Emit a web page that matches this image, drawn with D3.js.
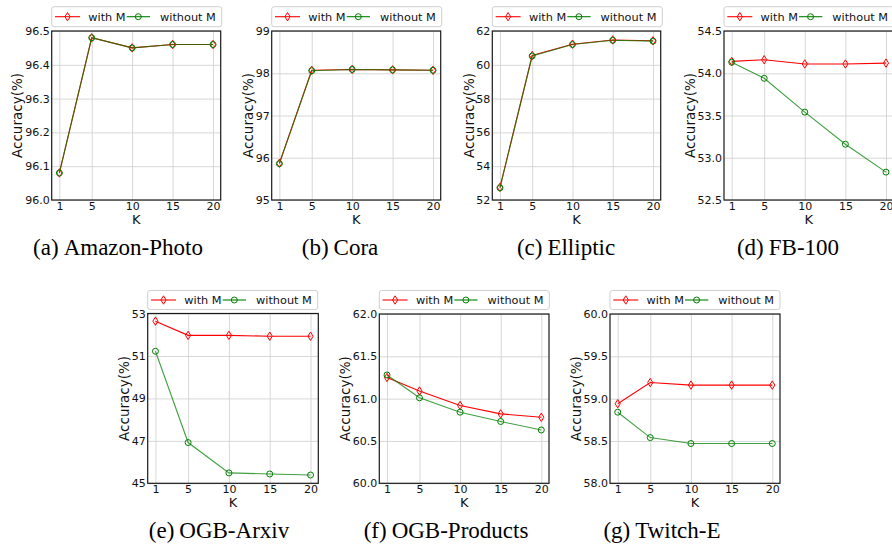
<!DOCTYPE html>
<html><head><meta charset="utf-8">
<script src="https://cdn.jsdelivr.net/npm/d3@7"></script>
<style>body{margin:0;background:#fff}svg{display:block}</style>
</head><body><svg id="c" width="892" height="544"></svg>
<script>
// ---------- data ----------
const kValues = [1, 5, 10, 15, 20];
const seriesNames = ["with M", "without M"];
const captionTags = ["(a)", "(b)", "(c)", "(d)", "(e)", "(f)", "(g)"];
const datasetNames = ["Amazon-Photo", "Cora", "Elliptic", "FB-100", "OGB-Arxiv", "OGB-Products", "Twitch-E"];

const withM_AmazonPhoto    = [96.08, 96.48, 96.45, 96.46, 96.46];
const withoutM_AmazonPhoto = [96.08, 96.48, 96.45, 96.46, 96.46];
const withM_Cora           = [95.87, 98.07, 98.09, 98.08, 98.07];
const withoutM_Cora        = [95.86, 98.06, 98.09, 98.08, 98.07];
const withM_Elliptic       = [52.75, 60.55, 61.22, 61.47, 61.42];
const withoutM_Elliptic    = [52.72, 60.52, 61.20, 61.45, 61.40];
const withM_FB100          = [54.14, 54.16, 54.11, 54.11, 54.12];
const withoutM_FB100       = [54.13, 53.94, 53.54, 53.16, 52.83];
const withM_OGBArxiv       = [52.64, 51.97, 51.97, 51.93, 51.93];
const withoutM_OGBArxiv    = [51.22, 46.92, 45.49, 45.44, 45.39];
const withM_OGBProducts    = [61.25, 61.09, 60.92, 60.82, 60.78];
const withoutM_OGBProducts = [61.28, 61.01, 60.84, 60.73, 60.63];
const withM_TwitchE        = [58.94, 59.19, 59.16, 59.16, 59.16];
const withoutM_TwitchE     = [58.84, 58.54, 58.47, 58.47, 58.47];

const yTicks_AmazonPhoto = [96.0, 96.1, 96.2, 96.3, 96.4, 96.5];
const yTicks_Cora        = [95, 96, 97, 98, 99];
const yTicks_Elliptic    = [52, 54, 56, 58, 60, 62];
const yTicks_FB100       = [52.5, 53.0, 53.5, 54.0, 54.5];
const yTicks_OGBArxiv    = [45, 47, 49, 51, 53];
const yTicks_OGBProducts = [60.0, 60.5, 61.0, 61.5, 62.0];
const yTicks_TwitchE     = [58.0, 58.5, 59.0, 59.5, 60.0];

// ---------- layout ----------
const panels = [
  {w: withM_AmazonPhoto, wo: withoutM_AmazonPhoto, t: yTicks_AmazonPhoto, f: ".1f", x0: 51.7, x1: 220.7, y0: 31, y1: 200, lt: 6.7, lh: 20, yl: 34, cx: 118},
  {w: withM_Cora, wo: withoutM_Cora, t: yTicks_Cora, f: "d", x0: 271.7, x1: 440.7, y0: 31, y1: 200, lt: 6.7, lh: 20, yl: 23.5, cx: 340},
  {w: withM_Elliptic, wo: withoutM_Elliptic, t: yTicks_Elliptic, f: "d", x0: 492.3, x1: 660.7, y0: 31, y1: 200, lt: 6.7, lh: 20, yl: 23.5, cx: 566},
  {w: withM_FB100, wo: withoutM_FB100, t: yTicks_FB100, f: ".1f", x0: 724, x1: 893.7, y0: 31, y1: 200, lt: 6.7, lh: 20, yl: 34, cx: 788},
  {w: withM_OGBArxiv, wo: withoutM_OGBArxiv, t: yTicks_OGBArxiv, f: "d", x0: 147.7, x1: 318.3, y0: 313.5, y1: 483.3, lt: 290.5, lh: 19, yl: 23, cx: 219},
  {w: withM_OGBProducts, wo: withoutM_OGBProducts, t: yTicks_OGBProducts, f: ".1f", x0: 379.3, x1: 549, y0: 314, y1: 483.3, lt: 290.5, lh: 19, yl: 34, cx: 446},
  {w: withM_TwitchE, wo: withoutM_TwitchE, t: yTicks_TwitchE, f: ".1f", x0: 610, x1: 780, y0: 314, y1: 483.3, lt: 290.5, lh: 19, yl: 33.5, cx: 662}
];

const RED = "#ff0000", GREEN = "#008000";
const SANS = "'DejaVu Sans', sans-serif";
const SERIF = "'Liberation Serif', 'Times New Roman', serif";
const svg = d3.select("#c");
const diamond = "M0,-4.2L2.6,0L0,4.2L-2.6,0Z";

panels.forEach((p, i) => {
  const g = svg.append("g");
  const x = d3.scaleLinear().domain([0.05, 20.95]).range([p.x0, p.x1]);
  const y = d3.scaleLinear().domain([p.t[0], p.t[p.t.length - 1]]).range([p.y1, p.y0]);
  const fmt = d3.format(p.f);

  // grid
  const gx = g.append("g").attr("transform", `translate(0,${p.y1})`)
    .call(d3.axisBottom(x).tickValues(kValues).tickSize(-(p.y1 - p.y0)).tickFormat(""));
  const gy = g.append("g").attr("transform", `translate(${p.x0},0)`)
    .call(d3.axisLeft(y).tickValues(p.t).tickSize(-(p.x1 - p.x0)).tickFormat(""));
  [gx, gy].forEach(a => {
    a.select(".domain").remove();
    a.selectAll(".tick line").attr("stroke", "#d2d2d2").attr("stroke-width", 0.9);
  });

  // tick labels
  const ax = g.append("g").attr("transform", `translate(0,${p.y1})`)
    .call(d3.axisBottom(x).tickValues(kValues).tickSize(0).tickPadding(2));
  const ay = g.append("g").attr("transform", `translate(${p.x0},0)`)
    .call(d3.axisLeft(y).tickValues(p.t).tickFormat(fmt).tickSize(0).tickPadding(2));
  [ax, ay].forEach(a => {
    a.select(".domain").remove();
    a.selectAll("text").attr("font-family", SANS).attr("font-size", 11).attr("fill", "#111");
  });

  // frame
  g.append("rect").attr("x", p.x0).attr("y", p.y0).attr("width", p.x1 - p.x0).attr("height", p.y1 - p.y0)
    .attr("fill", "none").attr("stroke", "#1a1a1a").attr("stroke-width", 1.2);

  // axis labels
  g.append("text").attr("x", (p.x0 + p.x1) / 2).attr("y", p.y1 + 23.5).attr("text-anchor", "middle")
    .attr("font-family", SANS).attr("font-size", 13).attr("fill", "#111").text("K");
  g.append("text").attr("transform", `translate(${p.x0 - p.yl},${(p.y0 + p.y1) / 2}) rotate(-90)`)
    .attr("text-anchor", "middle").attr("dy", "0.35em")
    .attr("font-family", SANS).attr("font-size", 13.5).attr("fill", "#111").text("Accuracy(%)");

  // lines
  const line = d3.line().x((d, j) => x(kValues[j])).y(d => y(d));
  g.append("path").datum(p.w).attr("d", line).attr("fill", "none").attr("stroke", RED).attr("stroke-width", 1.1);
  g.append("path").datum(p.wo).attr("d", line).attr("fill", "none").attr("stroke", GREEN).attr("stroke-width", 1.1).attr("stroke-opacity", 0.75);
  g.selectAll(".dm").data(p.w).join("path").attr("class", "dm")
    .attr("transform", (d, j) => `translate(${x(kValues[j])},${y(d)})`)
    .attr("d", diamond).attr("fill", "none").attr("stroke", RED).attr("stroke-width", 1);
  g.selectAll(".ci").data(p.wo).join("circle").attr("class", "ci")
    .attr("cx", (d, j) => x(kValues[j])).attr("cy", d => y(d)).attr("r", 3)
    .attr("fill", "none").attr("stroke", GREEN).attr("stroke-width", 1);

  // legend
  const L = p.x0, W = 170, ly = p.lt + p.lh / 2;
  const lg = g.append("g");
  lg.append("rect").attr("x", L).attr("y", p.lt).attr("width", W).attr("height", p.lh).attr("rx", 2.5)
    .attr("fill", "#fff").attr("fill-opacity", 0.85).attr("stroke", "#cfcfcf").attr("stroke-width", 1);
  lg.append("line").attr("x1", L + 3.3).attr("x2", L + 28.3).attr("y1", ly).attr("y2", ly).attr("stroke", RED).attr("stroke-width", 1.1);
  lg.append("path").attr("transform", `translate(${L + 15.8},${ly})`).attr("d", diamond).attr("fill", "none").attr("stroke", RED);
  lg.append("text").attr("x", L + 36.6).attr("y", ly).attr("dy", "0.35em").attr("font-family", SANS).attr("font-size", 11.3).attr("fill", "#111").text(seriesNames[0]);
  lg.append("line").attr("x1", L + 75).attr("x2", L + 98.3).attr("y1", ly).attr("y2", ly).attr("stroke", GREEN).attr("stroke-width", 1.1);
  lg.append("circle").attr("cx", L + 86.6).attr("cy", ly).attr("r", 3).attr("fill", "none").attr("stroke", GREEN);
  lg.append("text").attr("x", L + 108.3).attr("y", ly).attr("dy", "0.35em").attr("font-family", SANS).attr("font-size", 11.3).attr("fill", "#111").text(seriesNames[1]);

  // caption
  const cap = svg.append("text").attr("x", p.cx).attr("y", p.y1 + 55).attr("text-anchor", "middle")
    .attr("font-family", SERIF).attr("font-size", 23).attr("fill", "#000");
  cap.append("tspan").text(captionTags[i]);
  cap.append("tspan").attr("dx", 5).text(datasetNames[i]);
});
</script>
</body></html>
